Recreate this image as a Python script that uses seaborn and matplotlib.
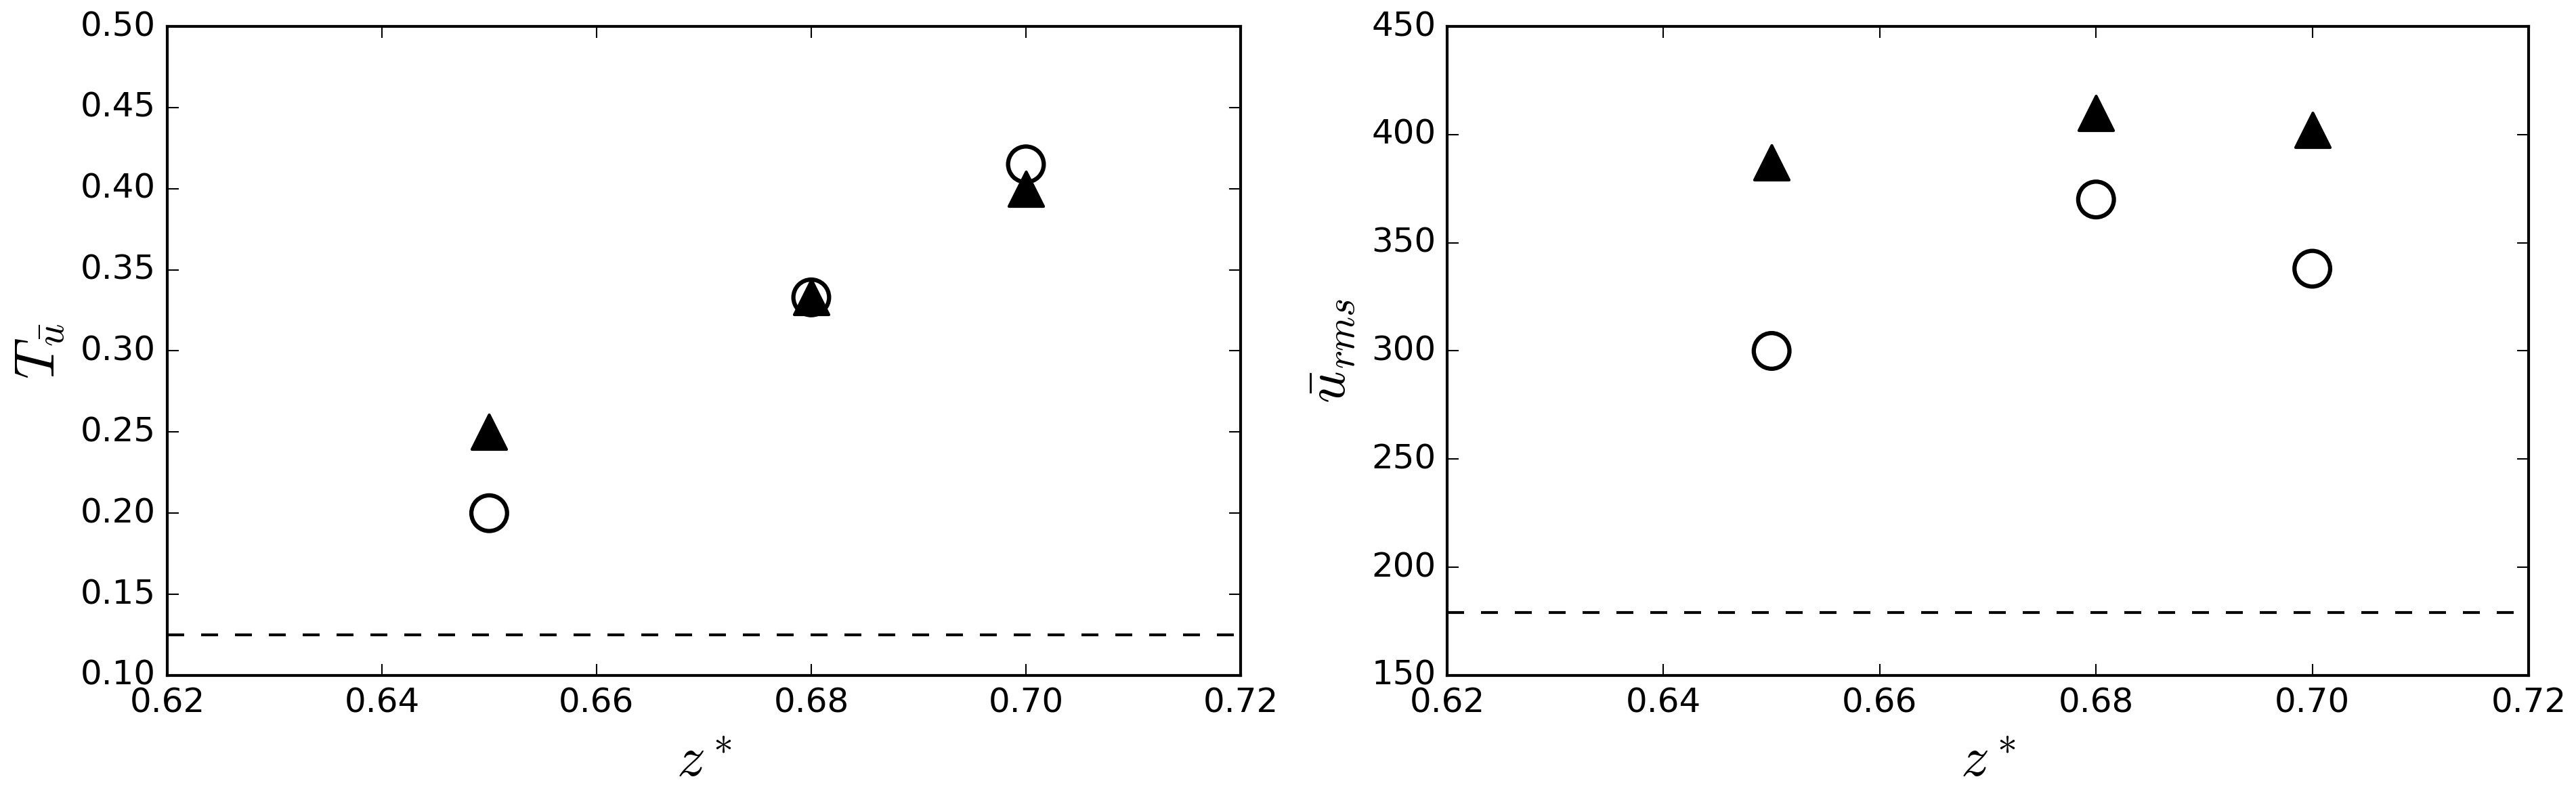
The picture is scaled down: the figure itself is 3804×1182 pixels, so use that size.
import seaborn as sns
import matplotlib.pyplot as plt

# data
z_star = [0.65, 0.68, 0.70]

t_ubar_circle = [0.200, 0.333, 0.415]
t_ubar_triangle = [0.250, 0.333, 0.400]
t_ubar_ref = 0.125

u_rms_circle = [300, 370, 338]
u_rms_triangle = [387, 410, 402]
u_rms_ref = 179

x_ticks = [0.62, 0.64, 0.66, 0.68, 0.70, 0.72]

plt.style.use('classic')
plt.rcParams['figure.facecolor'] = 'white'
plt.rcParams['savefig.facecolor'] = 'white'
plt.rcParams['font.size'] = 12

fig = plt.figure(figsize=(12.68, 3.94), dpi=300)
ax1 = fig.add_axes([0.0649, 0.1557, 0.4167, 0.8113])
ax2 = fig.add_axes([0.5618, 0.1557, 0.4198, 0.8113])


def draw_panel(ax, circles, triangles, ref, ylim, yticks, ylabel):
    sns.scatterplot(x=z_star, y=circles, marker='o', s=160, color='k',
                    facecolor='none', edgecolor='k', linewidth=1.5, ax=ax, zorder=3)
    sns.scatterplot(x=z_star, y=triangles, marker='^', s=150, color='k',
                    edgecolor='k', linewidth=1.0, ax=ax, zorder=4)
    ax.axhline(ref, color='k', linestyle='--', linewidth=1.0)
    ax.set_xlim(0.62, 0.72)
    ax.set_ylim(*ylim)
    ax.set_xticks(x_ticks)
    ax.set_yticks(yticks)
    ax.set_xlabel(r'$z^*$', fontsize=20)
    ax.set_ylabel(ylabel, fontsize=20)


draw_panel(ax1, t_ubar_circle, t_ubar_triangle, t_ubar_ref, (0.10, 0.50),
           [0.10, 0.15, 0.20, 0.25, 0.30, 0.35, 0.40, 0.45, 0.50], r'$T_{\bar{u}}$')
ax1.set_yticklabels(['0.10', '0.15', '0.20', '0.25', '0.30', '0.35', '0.40', '0.45', '0.50'])
ax1.set_xticklabels(['0.62', '0.64', '0.66', '0.68', '0.70', '0.72'])

draw_panel(ax2, u_rms_circle, u_rms_triangle, u_rms_ref, (150, 450),
           [150, 200, 250, 300, 350, 400, 450], r'$\bar{u}_{rms}$')
ax2.set_xticklabels(['0.62', '0.64', '0.66', '0.68', '0.70', '0.72'])

plt.savefig('out.png', dpi=300)
plt.close()
